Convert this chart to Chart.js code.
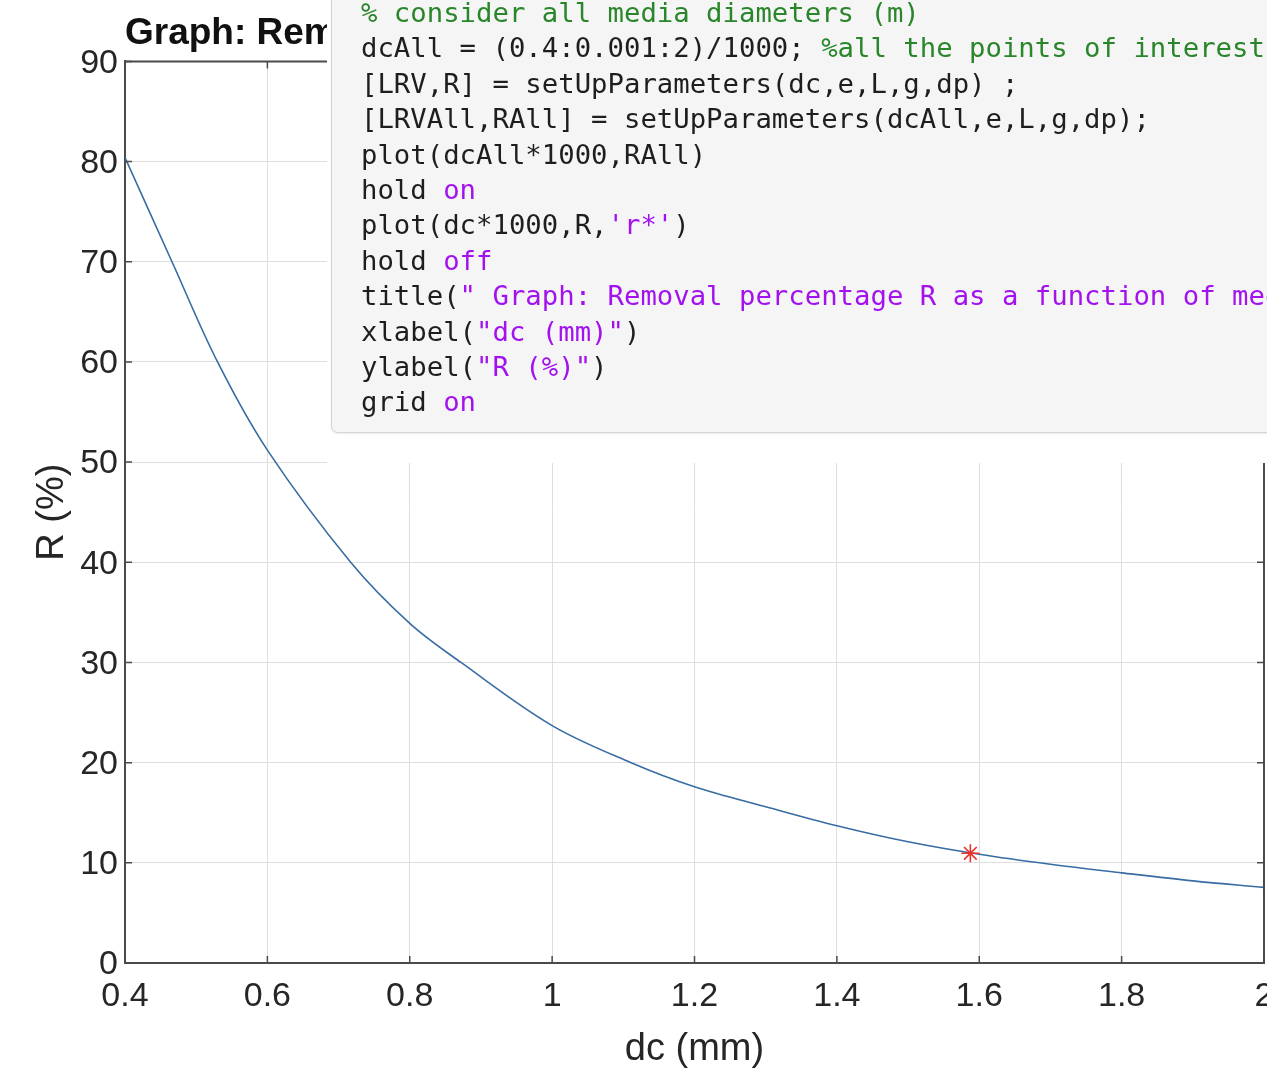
<!DOCTYPE html>
<html>
<head>
<meta charset="utf-8">
<script src="https://cdn.jsdelivr.net/npm/chart.js@4.4.1/dist/chart.umd.min.js"></script>
<style>
  html, body { margin: 0; padding: 0; background: #fff; overflow: hidden; }
  #wrap { position: absolute; left: 0; top: 0; width: 1294px; height: 1072px; }
  #mask { position: absolute; left: 327px; top: 0; width: 960px; height: 463px; background: #fff; z-index: 2; }
  #code {
    position: absolute; left: 4px; top: -12px; width: 980px; height: 443px;
    background: #f5f5f5; border: 1px solid #d4d4d4; border-radius: 7px;
    box-shadow: 0 1px 2px rgba(0,0,0,0.08);
    overflow: hidden;
  }
  #code pre {
    margin: 0; position: absolute; left: 29px; top: 6px;
    font-family: "DejaVu Sans Mono", monospace; font-size: 27.3px; line-height: 35.4px;
    color: #1e1e1e;
  }
  .c { color: #2a862a; }
  .s { color: #a312ee; }
</style>
</head>
<body>
<div id="wrap"><canvas id="myChart"></canvas></div>
<div id="mask"><div id="code"><pre><span class="c">% consider all media diameters (m)</span>
dcAll = (0.4:0.001:2)/1000; <span class="c">%all the points of interest</span>
[LRV,R] = setUpParameters(dc,e,L,g,dp) ;
[LRVAll,RAll] = setUpParameters(dcAll,e,L,g,dp);
plot(dcAll*1000,RAll)
hold <span class="s">on</span>
plot(dc*1000,R,<span class="s">'r*'</span>)
hold <span class="s">off</span>
title(<span class="s">" Graph: Removal percentage R as a function of media diameter"</span>)
xlabel(<span class="s">"dc (mm)"</span>)
ylabel(<span class="s">"R (%)"</span>)
grid <span class="s">on</span></pre></div></div>
<script>
// curve: media diameter (mm) vs removal (%)
const dcAll = [0.4, 0.466, 0.53, 0.6, 0.717, 0.8, 0.872, 1.0, 1.111, 1.2, 1.3, 1.4, 1.5, 1.6, 1.7, 1.8, 1.9, 2.0];
const RAll = [80.4, 70, 60, 51.2, 40, 33.9, 30, 23.7, 20, 17.6, 15.6, 13.7, 12.1, 10.85, 9.85, 9.0, 8.2, 7.55];
// the single red star
const dc = [1.5875];
const R = [10.95];
// tick labels
const xTicks = [0.4, 0.6, 0.8, 1, 1.2, 1.4, 1.6, 1.8, 2];
const yTicks = [0, 10, 20, 30, 40, 50, 60, 70, 80, 90];

const titleText = "Graph: Removal percentage R as a function of media diameter";
const fontFam = "'Liberation Sans', Arial, Helvetica, sans-serif";

// matlab "box on": close the top and right sides, inward tick marks
const boxPlugin = {
  id: "boxPlugin",
  afterDatasetsDraw(chart) {
    const { ctx, chartArea, scales } = chart;
    const a = chartArea;
    ctx.save();
    ctx.strokeStyle = "#4a4a4a";
    ctx.lineWidth = 2;
    ctx.beginPath();
    ctx.moveTo(a.left, a.top);
    ctx.lineTo(a.right, a.top);
    ctx.lineTo(a.right, a.bottom);
    ctx.stroke();
    ctx.lineWidth = 1.5;
    ctx.beginPath();
    xTicks.forEach((v) => {
      const px = scales.x.getPixelForValue(v);
      ctx.moveTo(px, a.bottom); ctx.lineTo(px, a.bottom - 7);
      ctx.moveTo(px, a.top); ctx.lineTo(px, a.top + 7);
    });
    yTicks.forEach((v) => {
      const py = scales.y.getPixelForValue(v);
      ctx.moveTo(a.left, py); ctx.lineTo(a.left + 7, py);
      ctx.moveTo(a.right, py); ctx.lineTo(a.right - 7, py);
    });
    ctx.stroke();
    ctx.restore();
  }
};

const myChart = new Chart("myChart", {
  type: "scatter",
  data: {
    datasets: [
      {
        type: "line",
        data: dcAll.map((v, i) => ({ x: v, y: RAll[i] })),
        borderColor: "#386ca3",
        borderWidth: 1.6,
        pointRadius: 0,
        fill: false,
        tension: 0.35,
        order: 2,
      },
      {
        data: dc.map((v, i) => ({ x: v, y: R[i] })),
        pointStyle: "star",
        pointRadius: 9,
        borderColor: "#e8312b",
        backgroundColor: "#e8312b",
        borderWidth: 1.6,
        order: 1,
      },
    ],
  },
  plugins: [boxPlugin],
  options: {
    responsive: true,
    maintainAspectRatio: false,
    animation: false,
    layout: { padding: { left: 0, right: 30, top: 0, bottom: 0 } },
    plugins: {
      legend: { display: false },
      tooltip: { enabled: false },
      title: {
        display: true,
        text: titleText,
        fullSize: false,
        align: "start",
        color: "#111",
        font: { family: fontFam, size: 37, weight: "bold" },
        padding: { top: 12, bottom: 5 },
      },
    },
    scales: {
      x: {
        type: "linear",
        min: 0.4,
        max: 2,
        afterBuildTicks: (s) => { s.ticks = xTicks.map((v) => ({ value: v })); },
        afterFit: (s) => { s.height = 109; },
        ticks: {
          callback: (v) => String(v),
          color: "#262626",
          font: { family: fontFam, size: 34 },
          padding: 13,
          maxRotation: 0,
        },
        grid: { color: "#dedede", lineWidth: 1, drawTicks: false },
        border: { color: "#4a4a4a", width: 2 },
        title: {
          display: true,
          text: "dc (mm)",
          color: "#262626",
          font: { family: fontFam, size: 38 },
          padding: { top: 0, bottom: 0 },
        },
      },
      y: {
        min: 0,
        max: 90,
        afterBuildTicks: (s) => { s.ticks = yTicks.map((v) => ({ value: v })); },
        afterFit: (s) => { s.width = 125; },
        ticks: {
          callback: (v) => String(v),
          color: "#262626",
          font: { family: fontFam, size: 34 },
          padding: 7,
          labelOffset: 2,
        },
        grid: { color: "#dedede", lineWidth: 1, drawTicks: false },
        border: { color: "#4a4a4a", width: 2 },
        title: {
          display: true,
          text: "R (%)",
          color: "#262626",
          font: { family: fontFam, size: 38 },
          padding: { top: 30, bottom: 0 },
        },
      },
    },
  },
});
</script>
</body>
</html>
